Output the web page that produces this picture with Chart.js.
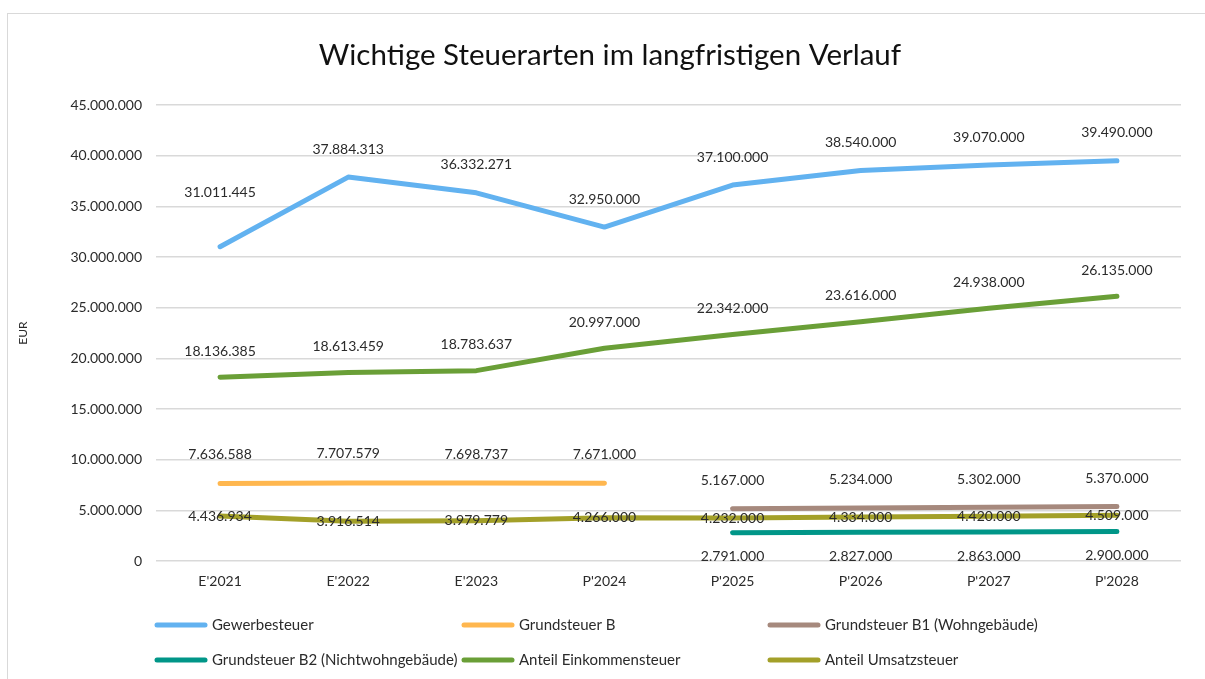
<!DOCTYPE html>
<html>
<head>
<meta charset="utf-8">
<script src="https://cdn.jsdelivr.net/npm/chart.js@4"></script>
<style>
  html, body { margin: 0; padding: 0; background: #fff; }
  #wrap { position: relative; width: 1205px; height: 679px; }
  #frame { position: absolute; left: 7px; top: 13px; right: -5px; bottom: -5px; border-left: 1.5px solid #d9d9d9; border-top: 1.5px solid #d9d9d9; }
  canvas { position: absolute; left: 0; top: 0; }
</style>
</head>
<body>
<div id="wrap">
  <div id="frame"></div>
  <canvas id="chart" width="1205" height="679"></canvas>
</div>
<script>
const chartTitle = 'Wichtige Steuerarten im langfristigen Verlauf'
const years = ["E'2021", "E'2022", "E'2023", "P'2024", "P'2025", "P'2026", "P'2027", "P'2028"]
const gewerbesteuer = [31011445, 37884313, 36332271, 32950000, 37100000, 38540000, 39070000, 39490000]
const grundsteuerB = [7636588, 7707579, 7698737, 7671000, null, null, null, null]
const grundsteuerB1 = [null, null, null, null, 5167000, 5234000, 5302000, 5370000]
const grundsteuerB2 = [null, null, null, null, 2791000, 2827000, 2863000, 2900000]
const einkommensteuer = [18136385, 18613459, 18783637, 20997000, 22342000, 23616000, 24938000, 26135000]
const umsatzsteuer = [4436934, 3916514, 3979779, 4266000, 4232000, 4334000, 4420000, 4509000]

const FONT = 'Lato, "Open Sans", sans-serif'
const TEXT = '#2b2b2b'

function fmt (v) {
  return String(Math.round(v)).replace(/\B(?=(\d{3})+(?!\d))/g, '.')
}

function line (label, data, color, labelOffset, firstOffset) {
  return {
    label,
    data,
    borderColor: color,
    backgroundColor: color,
    borderWidth: 5,
    borderCapStyle: 'round',
    borderJoinStyle: 'round',
    pointRadius: 0,
    pointHoverRadius: 0,
    tension: 0,
    spanGaps: false,
    labelOffset,
    firstOffset
  }
}

// value labels next to every point
const valueLabels = {
  id: 'valueLabels',
  afterDatasetsDraw (chart) {
    const ctx = chart.ctx
    ctx.save()
    ctx.font = '14px ' + FONT
    ctx.fillStyle = TEXT
    ctx.textAlign = 'center'
    ctx.textBaseline = 'middle'
    chart.data.datasets.forEach((ds, i) => {
      const meta = chart.getDatasetMeta(i)
      let first = true
      meta.data.forEach((pt, j) => {
        const v = ds.data[j]
        if (v === null) return
        let off = ds.labelOffset
        if (first && ds.firstOffset !== undefined) off = ds.firstOffset
        first = false
        ctx.fillText(fmt(v), pt.x, pt.y + off)
      })
    })
    ctx.restore()
  }
}

// title centred on the whole frame, legend in three columns under the plot
const titleAndLegend = {
  id: 'titleAndLegend',
  afterDraw (chart) {
    const ctx = chart.ctx
    ctx.save()
    ctx.font = '29.5px ' + FONT
    ctx.fillStyle = '#111111'
    ctx.textAlign = 'center'
    ctx.textBaseline = 'middle'
    ctx.fillText(chartTitle, 610, 55)

    const cols = [155, 462, 768]
    const rows = [625, 660]
    ctx.font = '15px ' + FONT
    ctx.textAlign = 'left'
    chart.data.datasets.forEach((ds, i) => {
      const x = cols[i % 3]
      const y = rows[Math.floor(i / 3)]
      ctx.strokeStyle = ds.borderColor
      ctx.lineWidth = 5
      ctx.lineCap = 'round'
      ctx.beginPath()
      ctx.moveTo(x + 2, y)
      ctx.lineTo(x + 50, y)
      ctx.stroke()
      ctx.fillStyle = TEXT
      ctx.fillText(ds.label, x + 57, y)
    })
    ctx.restore()
  }
}

new Chart(document.getElementById('chart'), {
  type: 'line',
  data: {
    labels: years,
    datasets: [
      line('Gewerbesteuer', gewerbesteuer, '#62b2f0', -28, -54),
      line('Grundsteuer B', grundsteuerB, '#ffb74f', -29),
      line('Grundsteuer B1 (Wohngebäude)', grundsteuerB1, '#a6897d', -28),
      line('Grundsteuer B2 (Nichtwohngebäude)', grundsteuerB2, '#009688', 24),
      line('Anteil Einkommensteuer', einkommensteuer, '#6a9f37', -26),
      line('Anteil Umsatzsteuer', umsatzsteuer, '#a3a029', 0)
    ]
  },
  options: {
    responsive: false,
    animation: false,
    events: [],
    layout: {
      padding: { left: 0, right: 24, top: 105, bottom: 79 }
    },
    plugins: {
      legend: { display: false },
      tooltip: { enabled: false },
      title: { display: false }
    },
    scales: {
      x: {
        offset: true,
        grid: { display: false, drawTicks: false },
        border: { display: false },
        ticks: { color: TEXT, font: { family: FONT, size: 14 }, padding: 12, maxRotation: 0 },
        afterFit (scale) { scale.height = 39 }
      },
      y: {
        min: 0,
        max: 45000000,
        grid: { color: '#d9d9d9', lineWidth: 1.5, drawTicks: false },
        border: { display: false },
        ticks: {
          stepSize: 5000000,
          color: TEXT,
          font: { family: FONT, size: 14 },
          padding: 14,
          callback: (v) => fmt(v)
        },
        title: {
          display: true,
          text: 'EUR',
          color: TEXT,
          font: { family: FONT, size: 12 },
          padding: { top: 16, bottom: 0 }
        },
        afterFit (scale) { scale.width = 156 }
      }
    }
  },
  plugins: [valueLabels, titleAndLegend]
})
</script>
</body>
</html>
